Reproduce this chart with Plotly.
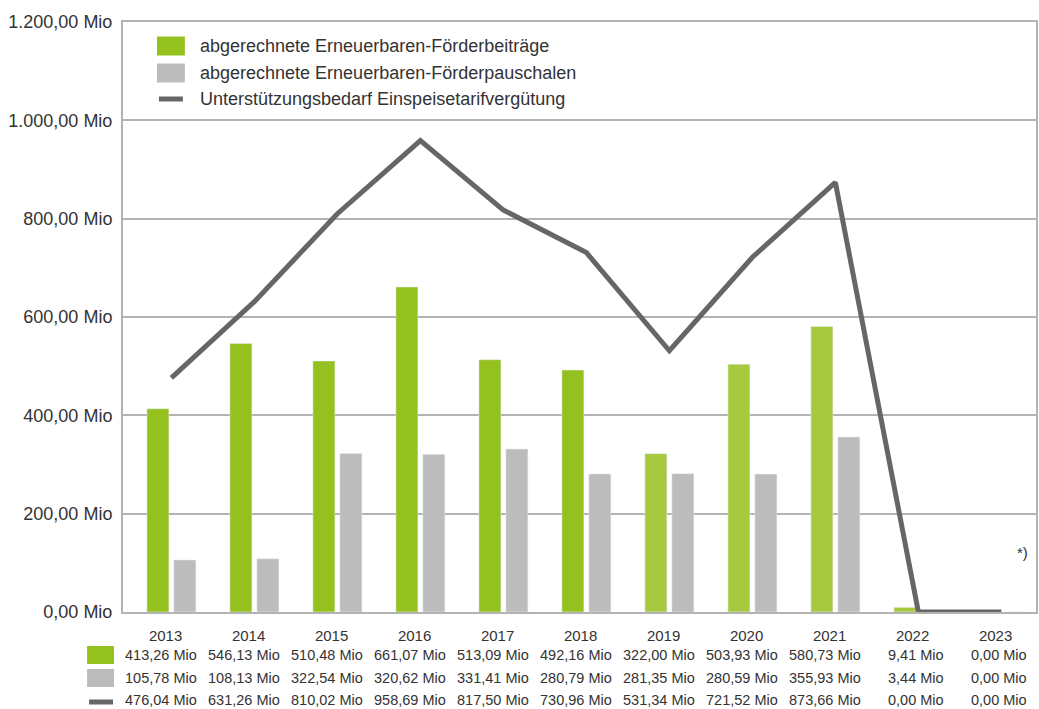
import plotly.graph_objects as go

years = ["2013", "2014", "2015", "2016", "2017", "2018", "2019", "2020", "2021", "2022", "2023"]
foerderbeitraege = [413.26, 546.13, 510.48, 661.07, 513.09, 492.16, 322.00, 503.93, 580.73, 9.41, 0.00]
foerderpauschalen = [105.78, 108.13, 322.54, 320.62, 331.41, 280.79, 281.35, 280.59, 355.93, 3.44, 0.00]
unterstuetzung = [476.04, 631.26, 810.02, 958.69, 817.50, 730.96, 531.34, 721.52, 873.66, 0.00, 0.00]
series_names = ["abgerechnete Erneuerbaren-Förderbeiträge",
                "abgerechnete Erneuerbaren-Förderpauschalen",
                "Unterstützungsbedarf Einspeisetarifvergütung"]
y_ticks = [0, 200, 400, 600, 800, 1000, 1200]

GREEN_DARK = "#95c11f"
GREEN_LIGHT = "#a6c93f"
GRAY = "#bcbcbc"
LINE = "#666666"
TXT = "#333333"
FONT = "Liberation Sans"

green_colors = [GREEN_DARK] * 6 + [GREEN_LIGHT] * 5
xs = list(range(len(years)))


def de(v):
    s = f"{v:,.2f}"
    return s.replace(",", "X").replace(".", ",").replace("X", ".") + " Mio"


fig = go.Figure()
fig.add_trace(go.Bar(x=xs, y=foerderbeitraege, marker_color=green_colors, name=series_names[0],
                     showlegend=False))
fig.add_trace(go.Bar(x=xs, y=foerderpauschalen, marker_color=GRAY, name=series_names[1],
                     showlegend=False))
fig.add_trace(go.Scatter(x=xs, y=unterstuetzung, mode="lines", name=series_names[2],
                         line=dict(color=LINE, width=5), showlegend=False))

# plot area in pixels
L, R, T, B = 123, 1038, 22, 612
W, H = R - L, B - T


def px(x):
    return (x - L) / W


def py(y):
    return (B - y) / H


shapes = []
annotations = []

# legend inside plot
leg_rows = [46, 73, 99]
for i, (name, yy) in enumerate(zip(series_names, leg_rows)):
    if i < 2:
        shapes.append(dict(type="rect", xref="paper", yref="paper",
                           x0=px(157), x1=px(185), y0=py(yy - 9.5), y1=py(yy + 9.5),
                           fillcolor=[GREEN_DARK, GRAY][i], line=dict(width=0)))
    else:
        shapes.append(dict(type="line", xref="paper", yref="paper",
                           x0=px(159), x1=px(183), y0=py(yy), y1=py(yy),
                           line=dict(color=LINE, width=5)))
    annotations.append(dict(xref="paper", yref="paper", x=px(198), y=py(yy), text=name,
                            showarrow=False, xanchor="left", yanchor="middle",
                            font=dict(family=FONT, size=18, color=TXT)))

# data table below
row_y = [655, 678, 700]
rows = [foerderbeitraege, foerderpauschalen, unterstuetzung]
for r, (vals, yy) in enumerate(zip(rows, row_y)):
    if r < 2:
        shapes.append(dict(type="rect", xref="paper", yref="paper",
                           x0=px(87), x1=px(114), y0=py(yy - 9), y1=py(yy + 9),
                           fillcolor=[GREEN_DARK, GRAY][r], line=dict(width=0)))
    else:
        shapes.append(dict(type="line", xref="paper", yref="paper",
                           x0=px(89), x1=px(113), y0=py(yy + 2), y1=py(yy + 2),
                           line=dict(color=LINE, width=5)))
    for x, v in zip(xs, vals):
        annotations.append(dict(xref="x", yref="paper", x=x, y=py(yy), text=de(v),
                                showarrow=False, xanchor="right", yanchor="middle", xshift=28,
                                font=dict(family=FONT, size=14.5, color=TXT)))

annotations.append(dict(xref="paper", yref="paper", x=px(1032), y=py(552), text="*)",
                        showarrow=False, xanchor="right", yanchor="middle",
                        font=dict(family=FONT, size=15, color=TXT)))

fig.update_layout(
    width=1039, height=709,
    margin=dict(l=L, r=1039 - R, t=T, b=709 - B),
    plot_bgcolor="white", paper_bgcolor="white",
    barmode="group", bargap=0.35, bargroupgap=0.185,
    separators=",.",
    showlegend=False,
    shapes=shapes, annotations=annotations,
    font=dict(family=FONT, color=TXT),
)
fig.update_xaxes(range=[-0.583, 10.417], tickmode="array",
                 tickvals=[x - 0.07 for x in xs], ticktext=years,
                 showgrid=False, showline=True, mirror=True, linecolor="#b3b3b3", linewidth=2,
                 ticks="", ticklabelstandoff=9,
                 tickfont=dict(family=FONT, size=15, color=TXT), zeroline=False)
fig.update_yaxes(range=[0, 1200], tickmode="array", tickvals=y_ticks,
                 ticktext=[de(v) for v in y_ticks],
                 showgrid=True, gridcolor="#b3b3b3", gridwidth=1.5,
                 showline=True, mirror=True, linecolor="#b3b3b3", linewidth=2,
                 ticks="", ticklabelstandoff=5, zeroline=False,
                 tickfont=dict(family=FONT, size=18, color=TXT))

fig.write_html("out.html")
